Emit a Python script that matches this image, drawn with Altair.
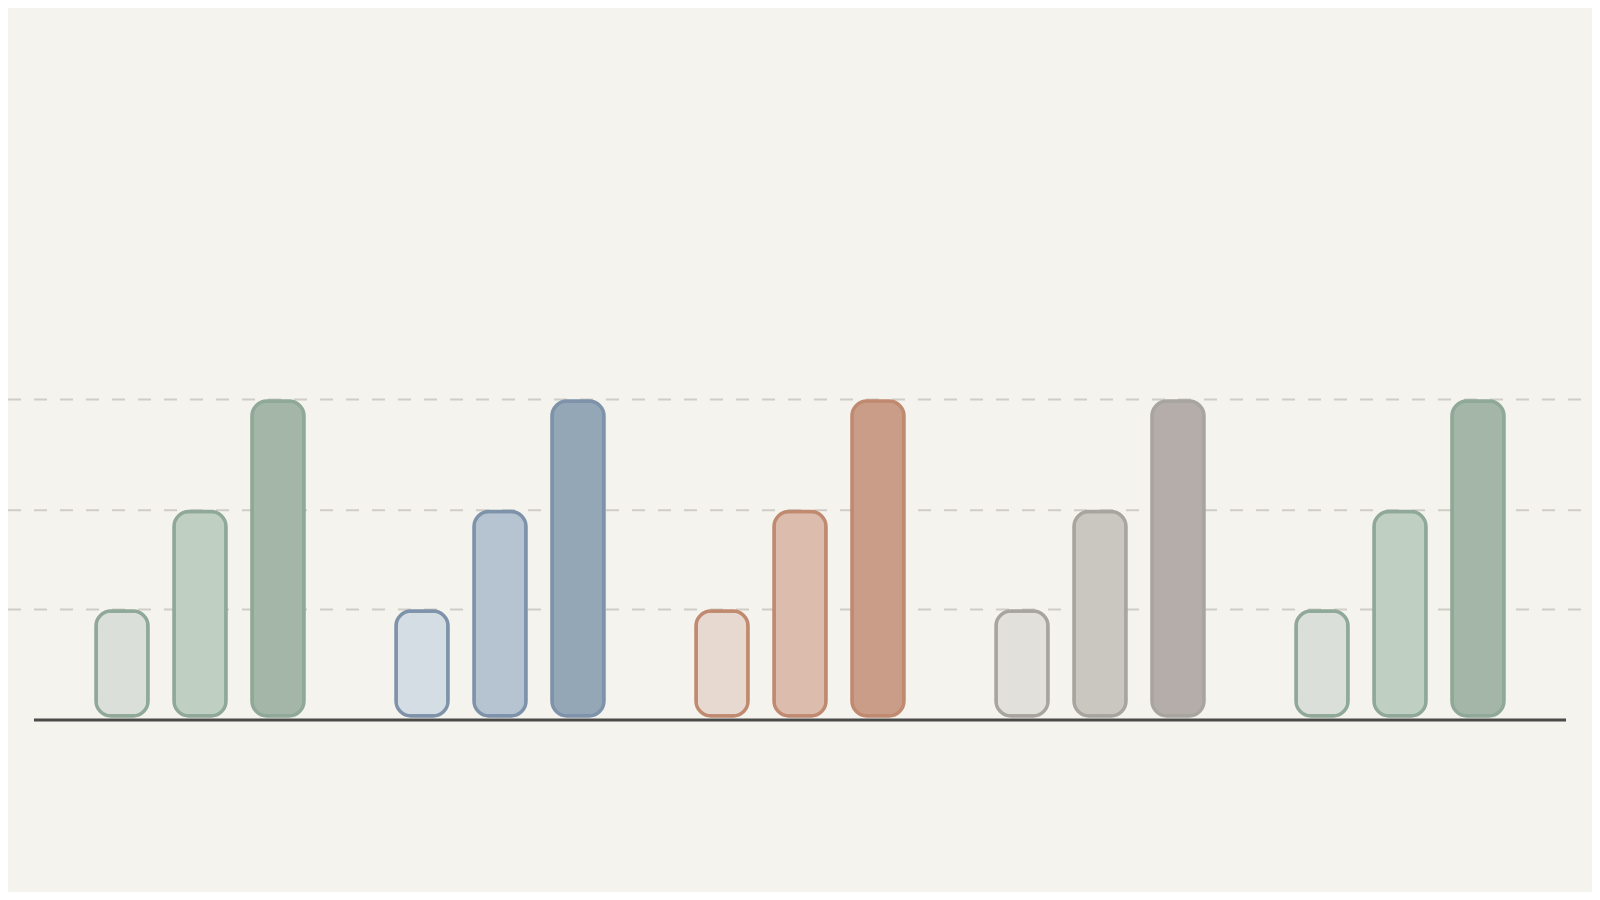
import altair as alt
import pandas as pd

# ---- data ----
groups = ["A", "B", "C", "D", "E"]
levels = ["low", "mid", "high"]
level_values = [15, 29.2, 45]          # same for every group
grid_values = [15.2, 29.4, 45.2]       # dashed reference lines

# ---- styles ----
fill_palette = {
    "A": ["#dae0d9", "#bfd0c3", "#a4b6a7"],
    "B": ["#d3dde3", "#b6c3d0", "#94a7b6"],
    "C": ["#e8d9d0", "#dbbcad", "#c99d87"],
    "D": ["#e2e0da", "#cac7c0", "#b4ada9"],
    "E": ["#dae0d9", "#bfd0c3", "#a4b6a7"],
}
stroke_palette = {
    "A": "#8fa898",
    "B": "#7e93aa",
    "C": "#c08a70",
    "D": "#a8a5a0",
    "E": "#8fa898",
}

rows = []
for g in groups:
    for lv, v in zip(levels, level_values):
        rows.append({"group": g, "level": lv, "value": v, "key": f"{g}-{lv}"})
df = pd.DataFrame(rows)

keys = [f"{g}-{lv}" for g in groups for lv in levels]
fills = [fill_palette[g][i] for g in groups for i in range(3)]

W, H = 1584, 884
yscale = alt.Scale(domain=[0, 100], range=[708, 8])

grid = alt.Chart(pd.DataFrame({"v": grid_values})).mark_rule(
    color="#d0cdc7", strokeWidth=2, strokeDash=[13, 13]
).encode(
    y=alt.Y("v:Q", scale=yscale, axis=None),
    x=alt.value(0),
    x2=alt.value(W),
)

bars = alt.Chart(df).mark_bar(cornerRadius=15, strokeWidth=3.5).encode(
    x=alt.X("group:N", sort=groups, axis=None,
            scale=alt.Scale(range=[42, 1542], paddingInner=0, paddingOuter=0)),
    xOffset=alt.XOffset("level:N", sort=levels,
                        scale=alt.Scale(paddingInner=0.333, paddingOuter=0.59)),
    y=alt.Y("value:Q", scale=yscale, axis=None),
    fill=alt.Fill("key:N", scale=alt.Scale(domain=keys, range=fills), legend=None),
    stroke=alt.Stroke("group:N", scale=alt.Scale(domain=groups,
                      range=[stroke_palette[g] for g in groups]), legend=None),
)

baseline = alt.Chart(pd.DataFrame({"z": [0]})).mark_rule(
    color="#4a4a48", strokeWidth=3, yOffset=4
).encode(
    y=alt.Y("z:Q", scale=yscale, axis=None),
    x=alt.value(26),
    x2=alt.value(1558),
)

chart = alt.layer(grid, bars, baseline).properties(
    width=W, height=H,
    autosize=alt.AutoSizeParams(type="none"),
    padding=0,
    background="#f5f3ee",
).configure_view(stroke=None)

chart.save("out.html", embed_options={"renderer": "svg", "actions": False})
